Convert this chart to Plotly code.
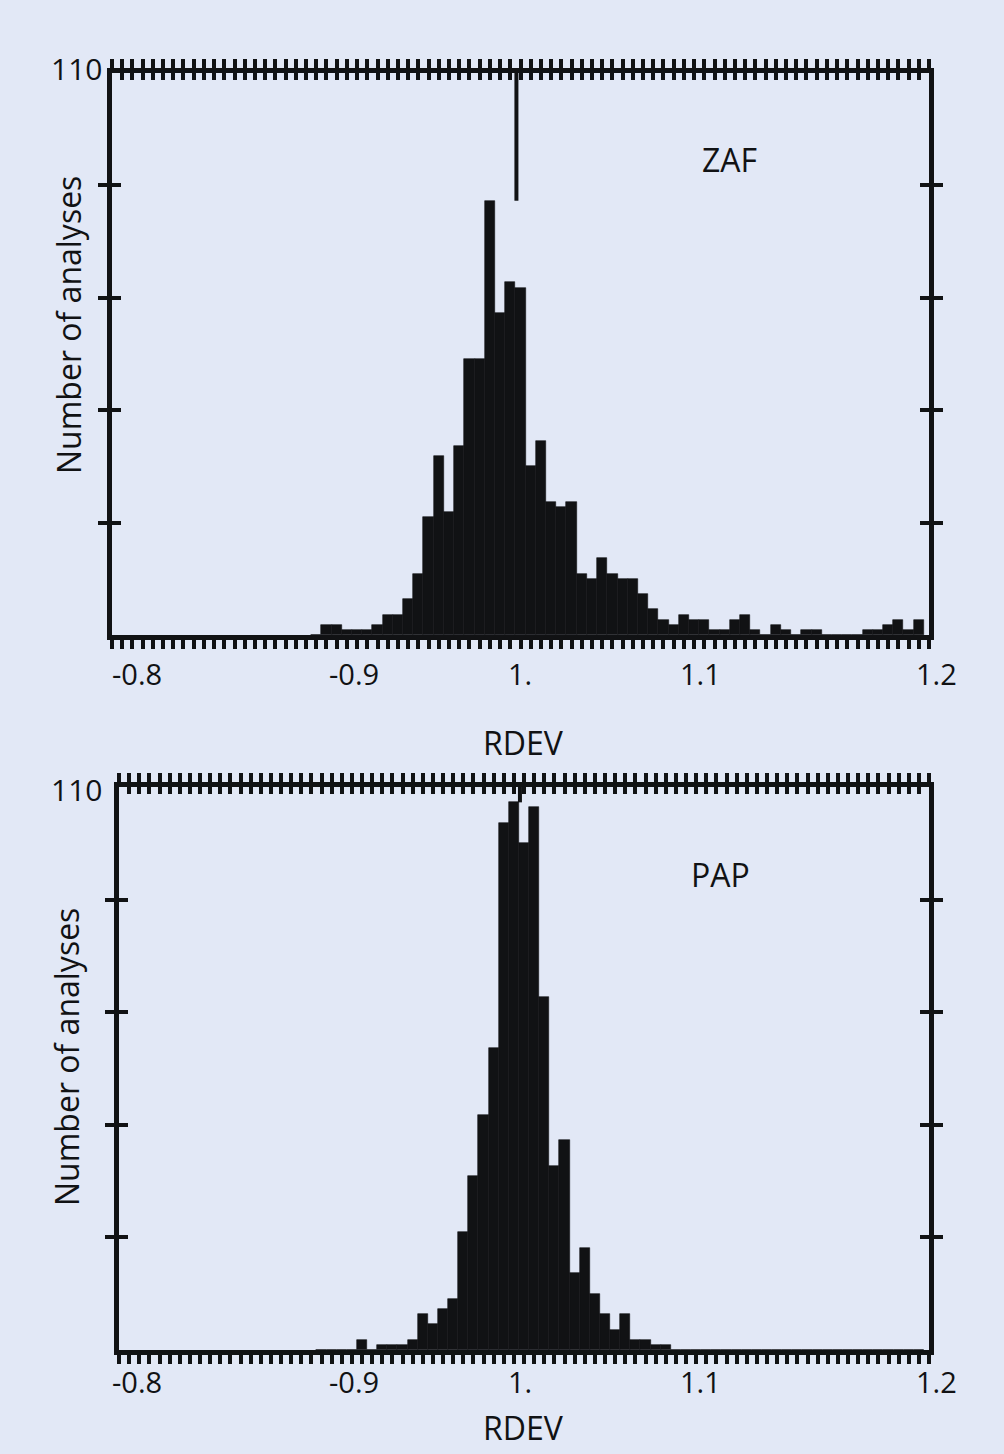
import plotly.graph_objects as go

# ---------------- data ----------------
# RDEV bin centres (bin width 0.005)
rdev_bins = [0.900, 0.905, 0.910, 0.915, 0.920, 0.925, 0.930, 0.935, 0.940, 0.945,
             0.950, 0.955, 0.960, 0.965, 0.970, 0.975, 0.980, 0.985, 0.990, 0.995,
             1.000, 1.005, 1.010, 1.015, 1.020, 1.025, 1.030, 1.035, 1.040, 1.045,
             1.050, 1.055, 1.060, 1.065, 1.070, 1.075, 1.080, 1.085, 1.090, 1.095,
             1.100, 1.105, 1.110, 1.115, 1.120, 1.125, 1.130, 1.135, 1.140, 1.145,
             1.150, 1.155, 1.160, 1.165, 1.170, 1.175, 1.180, 1.185, 1.190, 1.195]

zaf_counts = [0, 2, 2, 1, 1, 1, 2, 4, 4, 7,
              12, 23, 35, 24, 37, 54, 54, 85, 63, 69,
              68, 33, 38, 26, 25, 26, 12, 11, 15, 12,
              11, 11, 8, 5, 3, 2, 4, 3, 3, 1,
              1, 3, 4, 1, 0, 2, 1, 0, 1, 1,
              0, 0, 0, 0, 1, 1, 2, 3, 1, 3]

pap_counts = [0, 0, 0, 0, 2, 0, 1, 1, 1, 2,
              7, 5, 8, 10, 23, 34, 46, 59, 103, 107,
              99, 106, 69, 36, 41, 15, 20, 11, 7, 4,
              7, 2, 2, 1, 1, 0, 0, 0, 0, 0,
              0, 0, 0, 0, 0, 0, 0, 0, 0, 0,
              0, 0, 0, 0, 0, 0, 0, 0, 0, 0]

x_tick_labels = ["-0.8", "-0.9", "1.", "1.1", "1.2"]
y_tick_vals = [22, 44, 66, 88]
y_max = 110
ref_line_x = 0.998
panel_names = ["ZAF", "PAP"]

# ---------------- style / layout ----------------
W, H = 1004, 1454
BG = "#E2E8F6"
INK = "#111214"
FONT = "Open Sans"
x_label_px = [137, 354, 520, 700, 936]   # pixel centres of the x labels


def px(x):
    return x / W


def py(y):
    return 1 - y / H


fig = go.Figure()

panels = [
    dict(counts=zaf_counts, dom_x=[px(112), px(929)], dom_y=[py(635), py(73)],
         name=panel_names[0], lab_y=674, title_y=742, ylab_y=325, ytitle_x=68, y110=69,
         name_xy=(1.1025, 93)),
    dict(counts=pap_counts, dom_x=[px(119), px(929)], dom_y=[py(1350), py(787)],
         name=panel_names[1], lab_y=1381, title_y=1427, ylab_y=1057, ytitle_x=66, y110=789,
         name_xy=(1.097, 93)),
]

annotations = []
for i, p in enumerate(panels):
    n = i + 1
    sfx = "" if n == 1 else str(n)
    xname, yname = "x" + sfx, "y" + sfx
    oxname, oyname = "x" + str(n + 2), "y" + str(n + 2)
    counts = p["counts"]

    fig.add_trace(go.Bar(x=rdev_bins, y=counts, width=0.005, xaxis=xname, yaxis=yname,
                         marker=dict(color=INK, line=dict(color=INK, width=0.6)),
                         showlegend=False, hoverinfo="x+y"))
    fig.add_trace(go.Scatter(x=[ref_line_x, ref_line_x], y=[max(counts), y_max],
                             xaxis=xname, yaxis=yname, mode="lines",
                             line=dict(color=INK, width=4), showlegend=False,
                             hoverinfo="skip"))
    # invisible helper trace so that the overlay tick axes are drawn
    fig.add_trace(go.Scatter(x=[1.0], y=[50], xaxis=oxname, yaxis=oyname, mode="markers",
                             marker=dict(size=1, opacity=0), showlegend=False,
                             hoverinfo="skip"))

    common_x = dict(range=[0.8, 1.2], tickmode="linear", tick0=0.8, dtick=0.005,
                    tickwidth=4, tickcolor=INK, showticklabels=False, showgrid=False,
                    zeroline=False, fixedrange=True)
    common_y = dict(range=[0, y_max], tickmode="array", tickvals=y_tick_vals,
                    tickwidth=4, tickcolor=INK, showticklabels=False, showgrid=False,
                    zeroline=False, fixedrange=True)
    ax_x = "xaxis" + sfx
    ax_y = "yaxis" + sfx
    fig.update_layout(**{
        ax_x: dict(domain=p["dom_x"], anchor=yname, ticks="outside", ticklen=9,
                   showline=True, linewidth=5, linecolor=INK, mirror="ticks", **common_x),
        ax_y: dict(domain=p["dom_y"], anchor=xname, ticks="outside", ticklen=9,
                   showline=True, linewidth=5, linecolor=INK, mirror="ticks", **common_y),
        "xaxis" + str(n + 2): dict(overlaying=xname, anchor=oyname, side="top",
                                   ticks="inside", ticklen=7, showline=False, **common_x),
        "yaxis" + str(n + 2): dict(overlaying=yname, anchor=oxname, side="left",
                                   ticks="inside", ticklen=9, showline=False,
                                   mirror="ticks", **common_y),
    })

    # x tick labels
    for lab, lx in zip(x_tick_labels, x_label_px):
        annotations.append(dict(text=lab, x=px(lx), xref="paper", y=py(p["lab_y"]), yref="paper",
                                showarrow=False, xanchor="center", yanchor="middle",
                                font=dict(family=FONT, size=29, color=INK)))
    # axis titles
    annotations.append(dict(text="RDEV", x=px(523), xref="paper", y=py(p["title_y"]), yref="paper",
                            showarrow=False, xanchor="center", yanchor="middle",
                            font=dict(family=FONT, size=32, color=INK)))
    annotations.append(dict(text="Number of analyses", x=px(p["ytitle_x"]), xref="paper",
                            y=py(p["ylab_y"]), yref="paper", textangle=-90,
                            showarrow=False, xanchor="center", yanchor="middle",
                            font=dict(family=FONT, size=32, color=INK)))
    annotations.append(dict(text=str(y_max), x=px(104), xref="paper", y=py(p["y110"]), yref="paper",
                            showarrow=False, xanchor="right", yanchor="middle",
                            font=dict(family=FONT, size=30, color=INK)))
    annotations.append(dict(text=p["name"], x=p["name_xy"][0], xref=xname, y=p["name_xy"][1],
                            yref=yname, showarrow=False, xanchor="center", yanchor="middle",
                            font=dict(family=FONT, size=32, color=INK)))

fig.update_layout(width=W, height=H, margin=dict(l=0, r=0, t=0, b=0),
                  paper_bgcolor=BG, plot_bgcolor=BG, bargap=0, showlegend=False,
                  annotations=annotations)

fig.write_html("out.html", config={"displayModeBar": False},
               post_script="document.body.style.margin='0';document.body.style.padding='0';")
